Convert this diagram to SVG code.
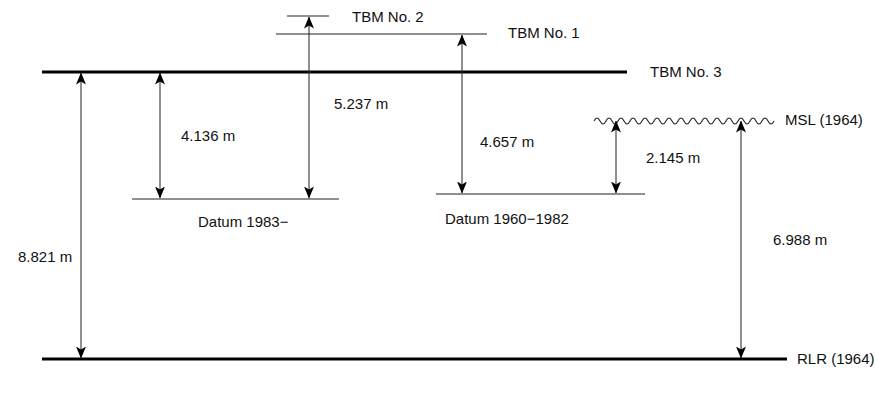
<svg xmlns="http://www.w3.org/2000/svg" width="875" height="400" viewBox="0 0 875 400">
<defs>
<style>
text{font-family:"Liberation Sans",Arial,sans-serif;font-size:15px;fill:#111}
.thick{stroke:#000;stroke-width:3;fill:none}
.thin{stroke:#222;stroke-width:1.1;fill:none}
.dim{stroke:#333;stroke-width:1.1;fill:none;marker-start:url(#ah);marker-end:url(#ah)}
</style>
<marker id="ah" viewBox="0 0 12 10" refX="11.5" refY="5" markerWidth="12" markerHeight="10" markerUnits="userSpaceOnUse" orient="auto-start-reverse">
<path d="M0,0 L12,5 L0,10 L3,5 Z" fill="#000"/>
</marker>
</defs>
<rect width="875" height="400" fill="#fff"/>
<g id="tbm2"><line class="thin" x1="287" y1="16" x2="329" y2="16"/><text x="352" y="22">TBM No. 2</text></g>
<g id="tbm1"><line class="thin" x1="276" y1="34" x2="487" y2="34"/><text x="508" y="38">TBM No. 1</text></g>
<g id="tbm3"><line class="thick" x1="42" y1="72" x2="627" y2="72"/><text x="650" y="77">TBM No. 3</text></g>
<g id="msl"><path class="thin" d="M594,121 q3,-6 6,0 t6,0 t6,0 t6,0 t6,0 t6,0 t6,0 t6,0 t6,0 t6,0 t6,0 t6,0 t6,0 t6,0 t6,0 t6,0 t6,0 t6,0 t6,0 t6,0 t6,0 t6,0 t6,0 t6,0 t6,0 t6,0 t6,0 t6,0 t6,0 t6,0"/><text x="785" y="125">MSL (1964)</text></g>
<g id="datum1983"><line class="thin" x1="132" y1="199" x2="339" y2="199"/><text x="198" y="227">Datum 1983−</text></g>
<g id="datum1960"><line class="thin" x1="436" y1="194" x2="645" y2="194"/><text x="445" y="224">Datum 1960−1982</text></g>
<g id="rlr"><line class="thick" x1="42" y1="359" x2="787" y2="359"/><text x="797" y="364">RLR (1964)</text></g>
<g id="connectors">
<line class="dim" x1="81" y1="73" x2="81" y2="358"/>
<line class="dim" x1="160" y1="73" x2="160" y2="198"/>
<line class="dim" x1="309" y1="17" x2="309" y2="198"/>
<line class="dim" x1="462" y1="35" x2="462" y2="193"/>
<line class="dim" x1="616" y1="121" x2="616" y2="193"/>
<line class="dim" x1="741" y1="121" x2="741" y2="358"/>
</g>
<g id="labels">
<text x="18" y="262">8.821 m</text>
<text x="181" y="141">4.136 m</text>
<text x="334" y="109">5.237 m</text>
<text x="480" y="147">4.657 m</text>
<text x="646" y="163">2.145 m</text>
<text x="773" y="245">6.988 m</text>
</g>
</svg>
